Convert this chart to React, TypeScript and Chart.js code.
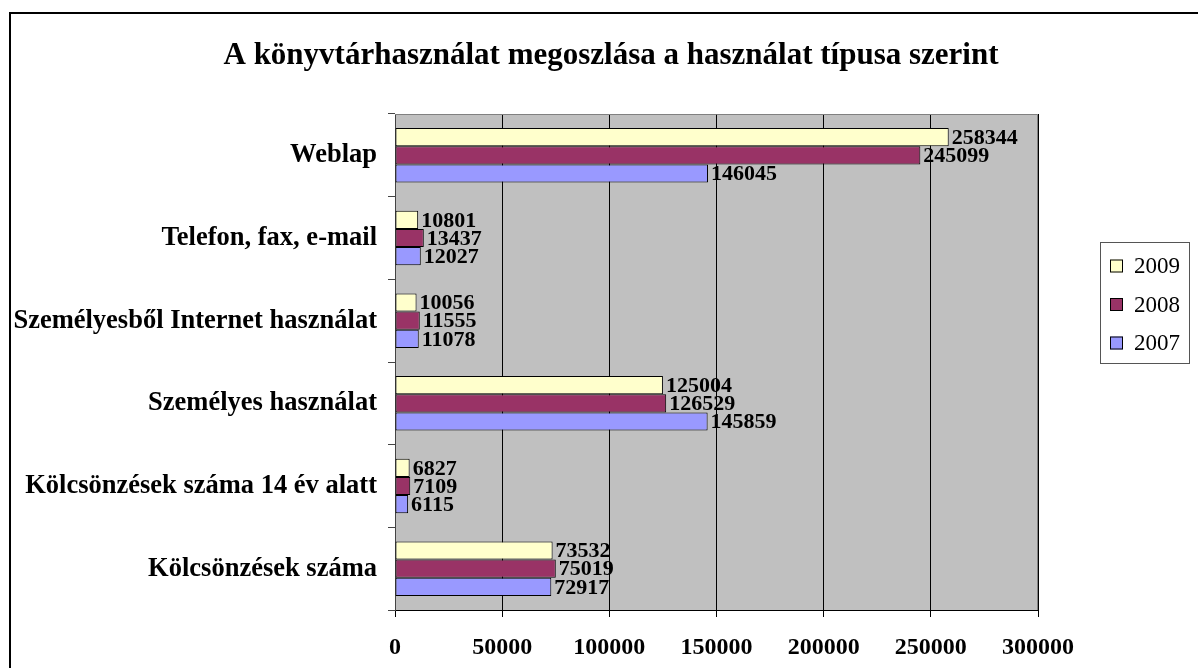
import React, { useEffect, useRef } from "react";
import { Chart, registerables } from "chart.js";

Chart.register(...registerables);

const chartTitle = "A könyvtárhasználat megoszlása a használat típusa szerint";
const categories = [
  "Weblap",
  "Telefon, fax, e-mail",
  "Személyesből Internet használat",
  "Személyes használat",
  "Kölcsönzések száma 14 év alatt",
  "Kölcsönzések száma",
];
const seriesNames = ["2009", "2008", "2007"];
const values2009 = [258344, 10801, 10056, 125004, 6827, 73532];
const values2008 = [245099, 13437, 11555, 126529, 7109, 75019];
const values2007 = [146045, 12027, 11078, 145859, 6115, 72917];
const seriesColors = ["#FFFFCC", "#993366", "#9999FF"];
const xMin = 0;
const xMax = 300000;
const xStep = 50000;

const FONT = "'Liberation Serif', 'DejaVu Serif', serif";

const bgPlugin = {
  id: "bgPlugin",
  beforeDraw(chart: any) {
    const { ctx, chartArea: a } = chart;
    ctx.save();
    ctx.fillStyle = "#ffffff";
    ctx.fillRect(0, 0, chart.width, chart.height);
    ctx.fillStyle = "#C0C0C0";
    ctx.fillRect(a.left, a.top, a.right - a.left, a.bottom - a.top);
    ctx.restore();
  },
  afterDraw(chart: any) {
    const { ctx, chartArea: a } = chart;
    ctx.save();
    // plot border top/right
    ctx.strokeStyle = "#808080";
    ctx.lineWidth = 1;
    ctx.beginPath();
    ctx.moveTo(a.left, a.top + 0.5);
    ctx.lineTo(a.right - 0.5, a.top + 0.5);
    ctx.lineTo(a.right - 0.5, a.bottom);
    ctx.stroke();
    // outer frame
    ctx.strokeStyle = "#000";
    ctx.lineWidth = 2;
    ctx.beginPath();
    ctx.moveTo(10, chart.height + 10);
    ctx.lineTo(10, 13);
    ctx.lineTo(chart.width + 10, 13);
    ctx.stroke();
    // title
    ctx.fillStyle = "#000";
    ctx.font = `bold 31px ${FONT}`;
    ctx.textAlign = "center";
    ctx.textBaseline = "middle";
    ctx.fillText(chartTitle, 611, 56);
    // legend
    const lx = 1100, ly = 242, lw = 89, lh = 121;
    ctx.fillStyle = "#fff";
    ctx.fillRect(lx, ly, lw, lh);
    ctx.strokeStyle = "#555";
    ctx.lineWidth = 1;
    ctx.strokeRect(lx + 0.5, ly + 0.5, lw, lh);
    chart.data.datasets.forEach((ds: any, i: number) => {
      const cy = 266 + i * 38.5;
      ctx.fillStyle = ds.backgroundColor;
      ctx.fillRect(1110, cy - 6.5, 13, 13);
      ctx.strokeStyle = "#000";
      ctx.strokeRect(1110.5, cy - 6, 12, 12);
      ctx.fillStyle = "#000";
      ctx.font = `23px ${FONT}`;
      ctx.textAlign = "left";
      ctx.textBaseline = "middle";
      ctx.fillText(ds.label, 1134, cy + 1);
    });
    ctx.restore();
  },
  afterDatasetsDraw(chart: any) {
    const { ctx } = chart;
    ctx.save();
    ctx.fillStyle = "#000";
    ctx.font = `bold 22px ${FONT}`;
    ctx.textAlign = "left";
    ctx.textBaseline = "middle";
    chart.data.datasets.forEach((ds: any, i: number) => {
      const meta = chart.getDatasetMeta(i);
      meta.data.forEach((el: any, j: number) => {
        ctx.fillText(String(ds.data[j]), el.x + 3, el.y + 1);
      });
    });
    ctx.restore();
  },
};

export default function App() {
  const ref = useRef<HTMLCanvasElement>(null);
  useEffect(() => {
    if (!ref.current) return;
    const series = [values2009, values2008, values2007];
    const chart = new Chart(ref.current, {
      type: "bar",
      data: {
        labels: categories,
        datasets: series.map((d, i) => ({
          label: seriesNames[i],
          data: d,
          backgroundColor: seriesColors[i],
          borderColor: "#000",
          borderWidth: 1,
          borderSkipped: false,
          categoryPercentage: 0.66,
          barPercentage: 1.0,
        })),
      },
      options: {
        indexAxis: "y",
        responsive: false,
        animation: false,
        layout: { padding: { top: 114, right: 160, bottom: 0, left: 0 } },
        plugins: {
          legend: { display: false },
          title: { display: false },
          tooltip: { enabled: false },
        },
        scales: {
          x: {
            min: xMin,
            max: xMax,
            ticks: {
              stepSize: xStep,
              color: "#000",
              font: { family: FONT, size: 24, weight: "bold" },
              padding: 16,
              maxRotation: 0,
              callback: (v: any) => String(v),
            },
            grid: { color: "#000", lineWidth: 1, tickLength: 7, drawTicks: true },
            border: { color: "#000" },
            afterFit(scale: any) {
              scale.height = 58;
            },
          },
          y: {
            ticks: {
              color: "#000",
              font: { family: FONT, size: 26.5, weight: "bold" },
              padding: 11,
            },
            grid: {
              offset: true,
              drawOnChartArea: false,
              drawTicks: true,
              tickLength: 7,
              color: "#444",
            },
            border: { color: "#444" },
            afterFit(scale: any) {
              scale.width = 395;
            },
          },
        },
      },
      plugins: [bgPlugin],
    } as any);
    return () => chart.destroy();
  }, []);
  return (
    <canvas
      ref={ref}
      width={1198}
      height={668}
      style={{ position: "fixed", left: 0, top: 0, display: "block" }}
    />
  );
}
